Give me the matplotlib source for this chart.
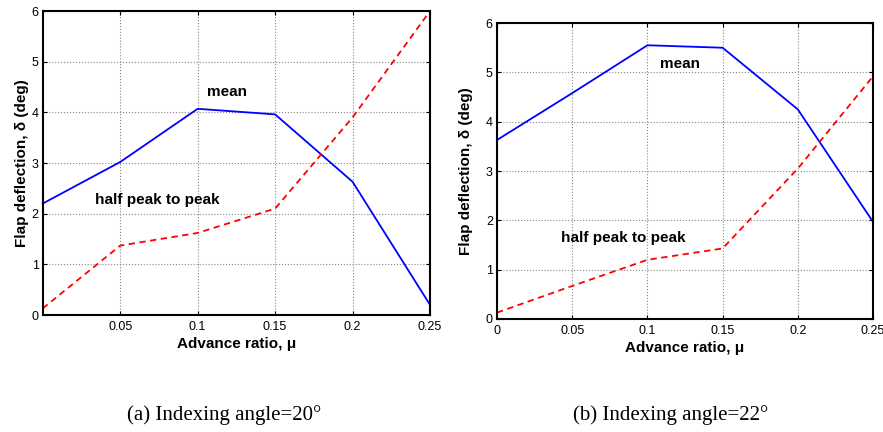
import numpy as np
import matplotlib
matplotlib.use("Agg")
import matplotlib.pyplot as plt

matplotlib.rcParams['font.family'] = ['Liberation Sans', 'DejaVu Sans']

# advance ratio
mu = [0.0, 0.05, 0.1, 0.15, 0.2, 0.25]

# (a) indexing angle 20 deg
mean_a = [2.2, 3.02, 4.07, 3.96, 2.63, 0.2]
half_a = [0.13, 1.37, 1.62, 2.1, 3.9, 6.0]

# (b) indexing angle 22 deg
mean_b = [3.63, 4.58, 5.55, 5.5, 4.25, 1.97]
half_b = [0.13, 0.67, 1.2, 1.43, 3.05, 4.92]

captions = ["(a) Indexing angle=20\u00b0", "(b) Indexing angle=22\u00b0"]

fig = plt.figure(figsize=(8.83, 4.32), dpi=100)
ax_a = fig.add_axes([0.0484, 0.2708, 0.4386, 0.7037])
ax_b = fig.add_axes([0.5629, 0.2616, 0.4258, 0.685])


def style_axis(ax, xticks, xticklabels, ypad):
    ax.set_xlim(0, 0.25)
    ax.set_ylim(0, 6)
    ax.set_xticks(xticks)
    ax.set_xticklabels(xticklabels)
    ax.set_yticks(range(7))
    ax.grid(True, ls=':', color='#888888', lw=0.8)
    ax.tick_params(direction='in', top=True, right=True, labelsize=9, length=3, pad=3)
    ax.tick_params(axis='x', pad=4)
    for s in ax.spines.values():
        s.set_linewidth(1.5)
    ax.set_xlabel("Advance ratio, \u03bc", fontsize=11, fontweight='bold', labelpad=3)
    ax.set_ylabel("Flap deflection, \u03b4 (deg)", fontsize=11, fontweight='bold', labelpad=ypad)


for ax, m, h in [(ax_a, mean_a, half_a), (ax_b, mean_b, half_b)]:
    ax.plot(mu, m, color='#0000ff', lw=1.3, clip_on=False)
    ax.plot(mu, h, color='#ff0000', lw=1.3, ls=(0, (3.5, 2.5)), clip_on=False)

style_axis(ax_a, [0.05, 0.1, 0.15, 0.2, 0.25], ['0.05', '0.1', '0.15', '0.2', '0.25'], 2)
style_axis(ax_b, [0, 0.05, 0.1, 0.15, 0.2, 0.25], ['0', '0.05', '0.1', '0.15', '0.2', '0.25'], 9)

ax_a.text(0.119, 4.4, "mean", fontsize=11, fontweight='bold', ha='center', va='center')
ax_a.text(0.0738, 2.27, "half peak to peak", fontsize=11, fontweight='bold', ha='center', va='center')
ax_b.text(0.1217, 5.17, "mean", fontsize=11, fontweight='bold', ha='center', va='center')
ax_b.text(0.0838, 1.64, "half peak to peak", fontsize=11, fontweight='bold', ha='center', va='center')

fig.text(224 / 883, 1 - 415 / 432, captions[0], fontsize=15, ha='center', va='center',
         family='Liberation Serif')
fig.text(671 / 883, 1 - 415 / 432, captions[1], fontsize=15, ha='center', va='center',
         family='Liberation Serif')

fig.savefig("out.png", dpi=100)
